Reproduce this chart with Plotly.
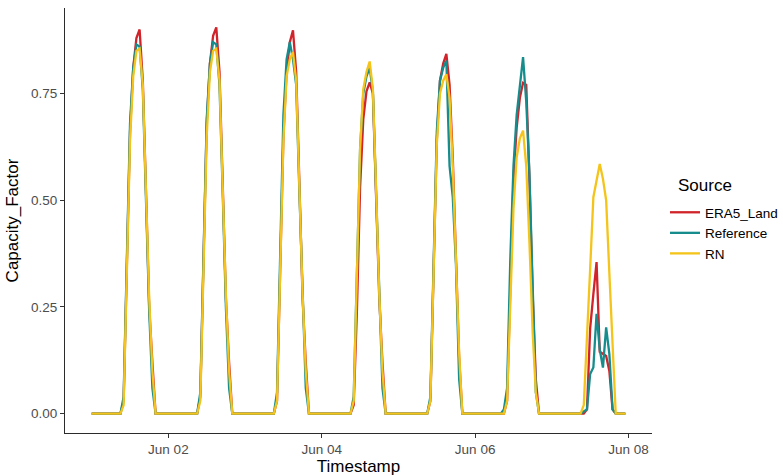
import pandas as pd
import plotly.graph_objects as go

# Hourly capacity factor, 1-7 June; one list of 24 hourly values per day
ERA5_LAND = [
    [0, 0, 0, 0, 0, 0, 0, 0, 0, 0, 0.03, 0.33, 0.66, 0.81, 0.88, 0.90, 0.78, 0.52, 0.25, 0.12, 0, 0, 0, 0],
    [0, 0, 0, 0, 0, 0, 0, 0, 0, 0, 0.04, 0.36, 0.68, 0.82, 0.885, 0.905, 0.80, 0.54, 0.27, 0.12, 0, 0, 0, 0],
    [0, 0, 0, 0, 0, 0, 0, 0, 0, 0, 0.03, 0.33, 0.65, 0.80, 0.87, 0.898, 0.80, 0.54, 0.27, 0.12, 0, 0, 0, 0],
    [0, 0, 0, 0, 0, 0, 0, 0, 0, 0, 0.02, 0.24, 0.53, 0.69, 0.755, 0.776, 0.75, 0.52, 0.27, 0.12, 0, 0, 0, 0],
    [0, 0, 0, 0, 0, 0, 0, 0, 0, 0, 0.03, 0.33, 0.64, 0.78, 0.82, 0.843, 0.77, 0.60, 0.37, 0.13, 0, 0, 0, 0],
    [0, 0, 0, 0, 0, 0, 0, 0, 0, 0, 0.03, 0.30, 0.55, 0.67, 0.74, 0.775, 0.77, 0.55, 0.28, 0.08, 0, 0, 0, 0],
    [0, 0, 0, 0, 0, 0, 0, 0, 0, 0, 0.0, 0.01, 0.20, 0.28, 0.355, 0.145, 0.14, 0.135, 0.10, 0.01, 0, 0, 0, 0],
]

REFERENCE = [
    [0, 0, 0, 0, 0, 0, 0, 0, 0, 0, 0.04, 0.36, 0.68, 0.81, 0.865, 0.86, 0.76, 0.50, 0.24, 0.06, 0, 0, 0, 0],
    [0, 0, 0, 0, 0, 0, 0, 0, 0, 0, 0.05, 0.38, 0.69, 0.82, 0.87, 0.865, 0.77, 0.52, 0.25, 0.06, 0, 0, 0, 0],
    [0, 0, 0, 0, 0, 0, 0, 0, 0, 0, 0.05, 0.37, 0.70, 0.83, 0.87, 0.83, 0.77, 0.52, 0.26, 0.06, 0, 0, 0, 0],
    [0, 0, 0, 0, 0, 0, 0, 0, 0, 0, 0.04, 0.34, 0.62, 0.75, 0.79, 0.81, 0.755, 0.52, 0.26, 0.06, 0, 0, 0, 0],
    [0, 0, 0, 0, 0, 0, 0, 0, 0, 0, 0.04, 0.36, 0.66, 0.78, 0.81, 0.827, 0.58, 0.507, 0.35, 0.08, 0, 0, 0, 0],
    [0, 0, 0, 0, 0, 0, 0, 0, 0, 0.01, 0.06, 0.36, 0.58, 0.70, 0.77, 0.835, 0.73, 0.56, 0.30, 0.05, 0, 0, 0, 0],
    [0, 0, 0, 0, 0, 0, 0, 0, 0, 0, 0.005, 0.01, 0.093, 0.108, 0.234, 0.15, 0.108, 0.202, 0.14, 0.01, 0, 0, 0, 0],
]

RN = [
    [0, 0, 0, 0, 0, 0, 0, 0, 0, 0, 0.02, 0.32, 0.64, 0.79, 0.85, 0.855, 0.77, 0.52, 0.27, 0.10, 0, 0, 0, 0],
    [0, 0, 0, 0, 0, 0, 0, 0, 0, 0, 0.03, 0.34, 0.65, 0.80, 0.85, 0.855, 0.78, 0.53, 0.28, 0.10, 0, 0, 0, 0],
    [0, 0, 0, 0, 0, 0, 0, 0, 0, 0, 0.03, 0.33, 0.64, 0.79, 0.83, 0.847, 0.78, 0.53, 0.28, 0.10, 0, 0, 0, 0],
    [0, 0, 0, 0, 0, 0, 0, 0, 0, 0, 0.03, 0.33, 0.62, 0.76, 0.80, 0.825, 0.76, 0.53, 0.28, 0.10, 0, 0, 0, 0],
    [0, 0, 0, 0, 0, 0, 0, 0, 0, 0, 0.03, 0.33, 0.63, 0.75, 0.78, 0.795, 0.74, 0.58, 0.36, 0.14, 0, 0, 0, 0],
    [0, 0, 0, 0, 0, 0, 0, 0, 0, 0, 0.03, 0.25, 0.48, 0.60, 0.645, 0.663, 0.58, 0.40, 0.19, 0.05, 0, 0, 0, 0],
    [0, 0, 0, 0, 0, 0, 0, 0, 0, 0, 0.02, 0.17, 0.34, 0.507, 0.55, 0.585, 0.55, 0.50, 0.33, 0.16, 0, 0, 0, 0],
]

SOURCES = ["ERA5_Land", "Reference", "RN"]
COLORS = ["#D0232A", "#168C8C", "#F4C41A"]
Y_TICKS = [0, 0.25, 0.50, 0.75]
Y_TICK_TEXT = ["0.00", "0.25", "0.50", "0.75"]
X_TICKS = ["2022-06-02", "2022-06-04", "2022-06-06", "2022-06-08"]
X_TICK_TEXT = ["Jun 02", "Jun 04", "Jun 06", "Jun 08"]

timestamps = pd.date_range("2022-06-01 00:00", periods=7 * 24, freq="h")

fig = go.Figure()
for name, color, days in zip(SOURCES, COLORS, [ERA5_LAND, REFERENCE, RN]):
    values = [v for day in days for v in day]
    fig.add_trace(go.Scatter(
        x=timestamps, y=values, mode="lines", name=name,
        line=dict(color=color, width=2.3),
    ))

# ggplot-style 5% padding on both axes
t0, t1 = timestamps[0], timestamps[-1]
pad = (t1 - t0) * 0.05
all_vals = [v for s in (ERA5_LAND, REFERENCE, RN) for d in s for v in d]
ymin, ymax = min(all_vals), max(all_vals)
ypad = (ymax - ymin) * 0.05

axis_common = dict(
    showline=True, linecolor="#2b2b2b", linewidth=1.1,
    ticks="outside", ticklen=4, tickcolor="#333333", tickwidth=1.1,
    showgrid=False, zeroline=False,
    tickfont=dict(size=13.5, color="#4d4d4d"),
)

fig.update_layout(
    width=783, height=476,
    margin=dict(l=65, r=131, t=8, b=43, autoexpand=False),
    paper_bgcolor="white", plot_bgcolor="white",
    font=dict(family="Liberation Sans, Arial, sans-serif", color="black"),
    xaxis=dict(
        **axis_common,
        type="date",
        range=[t0 - pad, t1 + pad],
        tickvals=X_TICKS, ticktext=X_TICK_TEXT,
        title=dict(text="Timestamp", font=dict(size=17, color="black"), standoff=0),
    ),
    yaxis=dict(
        **axis_common,
        range=[ymin - ypad, ymax + ypad],
        tickvals=Y_TICKS, ticktext=Y_TICK_TEXT,
        title=dict(text="Capacity_Factor", font=dict(size=17, color="black"), standoff=8),
    ),
    legend=dict(
        font=dict(size=13.5, color="black"),
        xref="container", yref="container",
        x=665 / 783, y=1 - 197 / 476, xanchor="left", yanchor="top",
        itemwidth=30, tracegroupgap=0,
        bgcolor="rgba(0,0,0,0)",
    ),
    annotations=[dict(
        text="Source", xref="paper", yref="paper",
        x=(676 - 65) / 587, y=(433 - 185) / 425,
        xanchor="left", yanchor="middle", showarrow=False,
        font=dict(size=17, color="black"),
    )],
)

fig.write_html("out.html")
